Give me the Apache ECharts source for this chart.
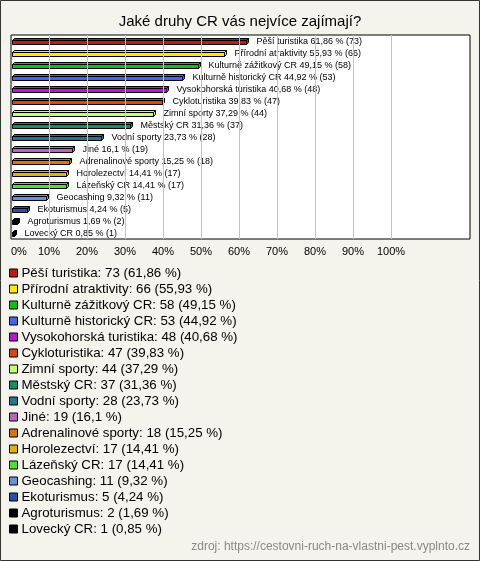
<!DOCTYPE html>
<html><head><meta charset="utf-8">
<script src="https://cdn.jsdelivr.net/npm/echarts@6/dist/echarts.min.js"></script>
<style>html,body{margin:0;padding:0;background:#f4f3ec;}#c{width:480px;height:561px;}</style>
</head><body><div id="c"></div>
<script>
const categories = ['Pěší turistika','Přírodní atraktivity','Kulturně zážitkový CR','Kulturně historický CR','Vysokohorská turistika','Cykloturistika','Zimní sporty','Městský CR','Vodní sporty','Jiné','Adrenalinové sporty','Horolezectví','Lázeňský CR','Geocashing','Ekoturismus','Agroturismus','Lovecký CR'];
const counts = [73,66,58,53,48,47,44,37,28,19,18,17,17,11,5,2,1];
const percents = [61.86,55.93,49.15,44.92,40.68,39.83,37.29,31.36,23.73,16.1,15.25,14.41,14.41,9.32,4.24,1.69,0.85];
const colors = ['#c41a0c','#ffe800','#10c010','#4464f0','#c014d0','#e04410','#c4ff70','#109060','#207890','#c060c0','#e07010','#e0b010','#50e030','#6890e0','#2850b0','#000000','#000000'];
const gridTicks = [10,20,30,40,50,60,70,80,90,100];
const title = 'Jaké druhy CR vás nejvíce zajímají?';
const source = 'zdroj: https://cestovni-ruch-na-vlastni-pest.vyplnto.cz';

const fmt = v => String(v).replace('.', ',');
const FONT = 'Arial, "Liberation Sans", sans-serif';

function makeRender(i) {
  return function (params, api) {
    const v = api.value(0), idx = api.value(1);
    const p0 = api.coord([0, idx]);
    const p1 = api.coord([v, idx]);
    const x0 = Math.round(p0[0]) + 1.5;
    const x1 = Math.round(p1[0]) + 0.5;
    const c = Math.round(p1[1]) + 0.5;
    const col = colors[i];
    const st = {fill: col, stroke: '#000', lineWidth: 1};
    return {
      type: 'group',
      children: [
        {type: 'polygon', shape: {points: [[x0, c - 1], [x0 + 2, c - 3], [x1 + 2, c - 3], [x1, c - 1]]}, style: st},
        {type: 'polygon', shape: {points: [[x1, c - 1], [x1 + 2, c - 3], [x1 + 2, c + 1], [x1, c + 3]]}, style: st},
        {type: 'rect', shape: {x: x0, y: c - 1, width: Math.max(x1 - x0, 0), height: 4}, style: st},
        {type: 'text', x: x1 + 10, y: c, style: {text: categories[i] + ' ' + fmt(percents[i]) + ' % (' + counts[i] + ')', fill: '#000', font: '9px ' + FONT, verticalAlign: 'middle', align: 'left'}}
      ]
    };
  };
}

const series = categories.map((name, i) => ({
  type: 'custom',
  name: name,
  itemStyle: {color: colors[i]},
  renderItem: makeRender(i),
  encode: {x: 0, y: 1},
  data: [[percents[i], i]],
  clip: false,
  z: 3
}));
series.push({
  type: 'line',
  name: '_grid',
  data: [],
  z: 1,
  silent: true,
  markLine: {
    silent: true,
    symbol: 'none',
    label: {show: false},
    lineStyle: {color: '#c4c4c4', type: 'solid', width: 1},
    data: gridTicks.map(t => ({xAxis: t}))
  }
});

const chart = echarts.init(document.getElementById('c'), null, {renderer: 'canvas'});
chart.setOption({
  backgroundColor: '#f4f3ec',
  animation: false,
  title: {text: title, left: 'center', top: 9, textStyle: {fontSize: 15, fontWeight: 'normal', color: '#000', fontFamily: FONT}},
  grid: {left: 11, top: 35, width: 459, height: 204, show: true, backgroundColor: '#fff', borderColor: '#000', borderWidth: 1},
  xAxis: {
    type: 'value', min: 0, max: 120.8, interval: 10,
    splitLine: {show: false}, axisLine: {show: false}, axisTick: {show: false},
    axisLabel: {color: '#000', fontSize: 11, fontFamily: FONT, margin: 7, alignMinLabel: 'left', showMaxLabel: false,
      formatter: v => (v <= 100 ? v + '%' : '')}
  },
  yAxis: {
    type: 'category', inverse: true, data: categories,
    axisLine: {show: false}, axisTick: {show: false}, axisLabel: {show: false}, splitLine: {show: false}
  },
  legend: {
    data: categories,
    orient: 'vertical', left: 9, top: 265, padding: 0,
    itemWidth: 8, itemHeight: 8, itemGap: 0, icon: 'rect',
    itemStyle: {borderColor: '#000', borderWidth: 1},
    selectedMode: false,
    textStyle: {fontSize: 13.3, lineHeight: 16, color: '#000', fontFamily: FONT, padding: [0, 0, 0, -1]},
    formatter: name => { const i = categories.indexOf(name); return name + ': ' + counts[i] + ' (' + fmt(percents[i]) + ' %)'; }
  },
  graphic: [
    {type: 'rect', shape: {x: 0.5, y: 0.5, width: 479, height: 560}, style: {fill: 'none', stroke: '#333', lineWidth: 1}, z: 10},
    {type: 'text', right: 10, top: 541, style: {text: source, fill: '#888', font: '12px ' + FONT}}
  ],
  series: series
});
</script></body></html>
